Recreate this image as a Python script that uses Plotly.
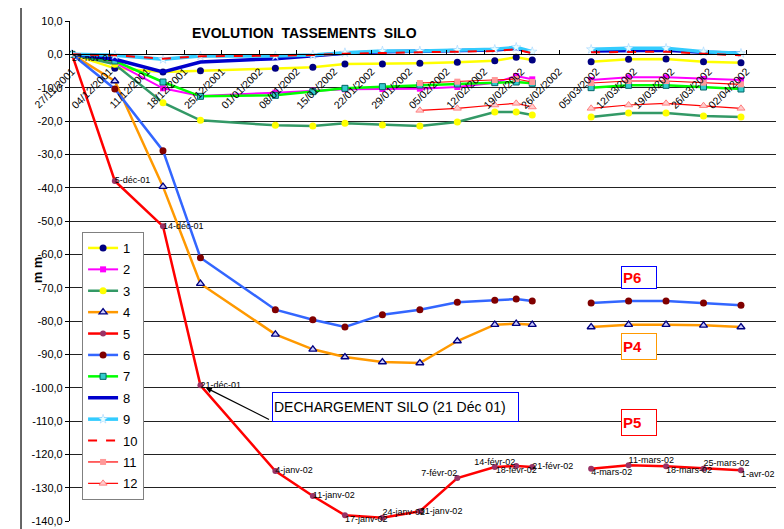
import plotly.graph_objects as go

# ---------------- data ----------------
dates = ["2001-11-27", "2001-12-05", "2001-12-14", "2001-12-21", "2002-01-04",
         "2002-01-11", "2002-01-17", "2002-01-24", "2002-01-31", "2002-02-07",
         "2002-02-14", "2002-02-18", "2002-02-21", "2002-02-28",
         "2002-03-04", "2002-03-11", "2002-03-18", "2002-03-25", "2002-04-01"]

s1 = [0, -4.2, -5.3, -4.9, -4.2, -3.9, -2.9, -2.9, -2.7, -2.4, -1.9, -0.9, -1.7, None, -2.2, -1.5, -1.4, -2.2, -2.5]
s2 = [0, -2.5, -10.2, -12.5, -11.5, -10.9, -10.5, -10.4, -10.3, -9.8, -8.5, -6.5, -7.5, None, -7.7, -6.9, -6.9, -7.4, -7.7]
s3 = [0, -3.0, -14.5, -19.8, -21.3, -21.5, -20.7, -21.2, -21.5, -20.3, -17.3, -17.3, -18.2, None, -18.8, -17.6, -17.6, -18.5, -18.8]
s4 = [0, -8.0, -39.7, -68.8, -84.0, -88.5, -90.8, -92.3, -92.6, -86.0, -81.1, -80.8, -81.1, None, -81.8, -81.1, -81.1, -81.3, -81.8]
s5 = [0, -38.0, -51.6, -99.3, -125.0, -132.5, -138.3, -139.0, -137.1, -127.1, -123.8, -123.5, -123.8, None, -124.3, -123.3, -123.6, -124.3, -124.8]
s6 = [0, -10.4, -28.9, -61.0, -76.6, -79.6, -81.8, -78.1, -76.6, -74.4, -73.8, -73.4, -74.0, None, -74.6, -74.0, -74.0, -74.6, -75.3]
s7 = [0, -2.0, -8.3, -12.6, -12.3, -11.2, -10.2, -9.7, -9.2, -8.9, -8.5, -8.3, -8.7, None, -10.0, -9.3, -9.3, -9.8, -10.4]
s8 = [0, -1.5, -5.3, -2.3, -1.3, -0.5, 0.3, 0.8, 0.9, 1.1, 1.3, 1.8, 0.6, None, 1.0, 1.2, 1.2, 0.6, 0.3]
s9 = [0, -0.3, -1.5, -0.5, -0.5, -0.2, 0.5, 1.0, 1.0, 1.3, 1.5, 2.1, 0.8, None, 1.5, 1.8, 1.8, 0.8, 0.3]
s10 = [0, -0.3, -1.3, -0.6, -0.4, -0.2, 0.2, 0.5, 0.6, 0.8, 1.0, 1.5, 0.3, None, 0.6, 0.8, 0.8, 0.2, -0.3]
s11 = [None, None, None, None, None, None, None, None, -8.6, -8.2, -7.7, -7.4, -8.3, None, -8.6, -8.0, -8.0, -8.5, -9.0]
s12 = [None, None, None, None, None, None, None, None, -16.8, -16.2, -15.2, -14.7, -15.8, None, -16.2, -15.2, -14.7, -15.4, -16.2]

series_names = ["1", "2", "3", "4", "5", "6", "7", "8", "9", "10", "11", "12"]

labels5 = ["27-nov-01", "5-déc-01", "14-déc-01", "21-déc-01", "4-janv-02", "11-janv-02",
           "17-janv-02", "24-janv-02", "31-janv-02", "7-févr-02", "14-févr-02", "18-févr-02",
           "21-févr-02", "", "4-mars-02", "11-mars-02", "18-mars-02", "25-mars-02", "1-avr-02"]

x_tick_dates = ["2001-11-27", "2001-12-04", "2001-12-11", "2001-12-18", "2001-12-25",
                "2002-01-01", "2002-01-08", "2002-01-15", "2002-01-22", "2002-01-29",
                "2002-02-05", "2002-02-12", "2002-02-19", "2002-02-26", "2002-03-05",
                "2002-03-12", "2002-03-19", "2002-03-26", "2002-04-02"]
x_tick_labels = ["27/11/2001", "04/12/2001", "11/12/2001", "18/12/2001", "25/12/2001",
                 "01/01/2002", "08/01/2002", "15/01/2002", "22/01/2002", "29/01/2002",
                 "05/02/2002", "12/02/2002", "19/02/2002", "26/02/2002", "05/03/2002",
                 "12/03/2002", "19/03/2002", "26/03/2002", "02/04/2002"]

y_tick_values = [10, 0, -10, -20, -30, -40, -50, -60, -70, -80, -90, -100, -110, -120, -130, -140]
y_tick_labels = ["10,0", "0,0", "-10,0", "-20,0", "-30,0", "-40,0", "-50,0", "-60,0", "-70,0",
                 "-80,0", "-90,0", "-100,0", "-110,0", "-120,0", "-130,0", "-140,0"]

# ---------------- styles ----------------
label5_pos = ["bottom right", "middle right", "middle right", "middle right", "middle right",
              "middle right", "bottom right", "top right", "middle right", "top left",
              "top center", "bottom center", "middle right", "middle right", "bottom right",
              "top right", "bottom right", "top right", "bottom right"]

styles = [
    dict(line=dict(color="#FFFF00", width=2.5), marker=dict(symbol="circle", color="#000080", size=7), mode="lines+markers"),
    dict(line=dict(color="#FF00FF", width=2), marker=dict(symbol="square", color="#FF00FF", size=6), mode="lines+markers"),
    dict(line=dict(color="#339966", width=2.5), marker=dict(symbol="circle", color="#FFFF00", size=7), mode="lines+markers"),
    dict(line=dict(color="#FF9900", width=2.5), marker=dict(symbol="triangle-up", color="#CCCCFF", size=7, line=dict(color="#000080", width=1.3)), mode="lines+markers"),
    dict(line=dict(color="#FF0000", width=2.5), marker=dict(symbol="circle", color="#993366", size=6), mode="lines+markers"),
    dict(line=dict(color="#3366FF", width=2.5), marker=dict(symbol="circle", color="#800000", size=7), mode="lines+markers"),
    dict(line=dict(color="#00FF00", width=2.5), marker=dict(symbol="square", color="#33CCCC", size=6, line=dict(color="#006666", width=1)), mode="lines+markers"),
    dict(line=dict(color="#0000CC", width=3.5), mode="lines"),
    dict(line=dict(color="#33CCFF", width=3.5), marker=dict(symbol="star", color="#E8FFFF", size=7, line=dict(color="#99CCFF", width=0.5)), mode="lines+markers"),
    dict(line=dict(color="#FF0000", width=2, dash="dash"), mode="lines"),
    dict(line=dict(color="#FF0000", width=1.2), marker=dict(symbol="square", color="#FF9999", size=6), mode="lines+markers"),
    dict(line=dict(color="#FF0000", width=1.2), marker=dict(symbol="triangle-up", color="#FFCCCC", size=7, line=dict(color="#FF8080", width=1)), mode="lines+markers"),
]

all_series = [s1, s2, s3, s4, s5, s6, s7, s8, s9, s10, s11, s12]

fig = go.Figure()
for name, vals, st in zip(series_names, all_series, styles):
    fig.add_trace(go.Scatter(x=dates, y=vals, name=name, legendgroup=name,
                             connectgaps=False, hoverinfo="skip", **st))

# point labels of series 5
fig.add_trace(go.Scatter(x=dates, y=s5, mode="text", text=labels5, textposition=label5_pos,
                         textfont=dict(family="Arial, Liberation Sans", size=9, color="#000000"),
                         showlegend=False, hoverinfo="skip", cliponaxis=False))

font_fam = "Arial, Liberation Sans, sans-serif"

fig.update_layout(
    width=784, height=529,
    margin=dict(l=62, r=12, t=13, b=16),
    paper_bgcolor="white", plot_bgcolor="white",
    font=dict(family=font_fam, color="#000000"),
    showlegend=True,
    legend=dict(x=0.017, y=0.578, xanchor="left", yanchor="top",
                bgcolor="white", bordercolor="#808080", borderwidth=1,
                font=dict(size=13, family=font_fam), tracegroupgap=1.5,
                itemwidth=30, traceorder="grouped"),
    xaxis=dict(type="date", range=["2001-11-26 15:00", "2002-04-08 07:00"],
               tickvals=x_tick_dates, ticktext=x_tick_labels, tickangle=-45,
               tickfont=dict(size=10.5, family=font_fam, color="#000000"),
               anchor="free", position=140 / 150, showline=True, linecolor="#000000",
               linewidth=1, ticks="inside", ticklen=4, tickcolor="#000000",
               showgrid=False, zeroline=False, ticklabelstandoff=6, automargin=False),
    yaxis=dict(range=[-140, 10], tickvals=y_tick_values, ticktext=y_tick_labels,
               tickfont=dict(size=11, family=font_fam, color="#000000"),
               showgrid=True, gridcolor="#222222", gridwidth=1.2,
               showline=True, linecolor="#000000", linewidth=1.2, mirror=True,
               zeroline=False, ticks="outside", ticklen=4, tickcolor="#000000",
               automargin=False),
)

ann = []
ann.append(dict(text="<b>EVOLUTION  TASSEMENTS  SILO</b>", xref="paper", yref="paper",
                x=0.169, y=0.977, xanchor="left", yanchor="middle", showarrow=False,
                font=dict(size=14, family=font_fam)))
ann.append(dict(text="<b>m m</b>", xref="paper", yref="paper", x=-0.046, y=0.502,
                xanchor="center", yanchor="middle",
                textangle=-90, showarrow=False, font=dict(size=13, family=font_fam)))
ann.append(dict(text="DECHARGEMENT SILO (21 Déc 01)", xref="paper", yref="paper",
                x=0.2845, y=0.229, xanchor="left", yanchor="middle", align="left",
                width=243, height=26, bordercolor="#0000FF", borderwidth=1, borderpad=1,
                bgcolor="white", showarrow=False, font=dict(size=14, family=font_fam)))
ann.append(dict(text=" ", x="2001-12-22", y=-100, ax="2002-01-03 09:00", ay=-110,
                xref="x", yref="y", axref="x", ayref="y", showarrow=True,
                arrowhead=2, arrowsize=1, arrowwidth=1.2, arrowcolor="#000000"))
for t, yy, hh, bc in [("P6", 0.488, 19, "#0000FF"), ("P4", 0.35, 23, "#FF9900"), ("P5", 0.198, 23, "#FF0000")]:
    ann.append(dict(text="<b>" + t + "</b>", xref="paper", yref="paper", x=0.8014, y=yy,
                    xanchor="center", yanchor="middle",
                    width=32, height=hh, align="left", bordercolor=bc, borderwidth=1,
                    borderpad=1, bgcolor="white", showarrow=False,
                    font=dict(size=15, color="#FF0000", family=font_fam)))
fig.update_layout(annotations=ann)

# outer chart frame
fig.add_shape(type="line", xref="paper", yref="paper", x0=-0.069, x1=-0.069, y0=-0.03, y1=1.03,
              line=dict(color="#000000", width=1.2))
fig.add_shape(type="line", xref="paper", yref="paper", x0=-0.069, x1=1.0, y0=1.03, y1=1.03,
              line=dict(color="#000000", width=1.2))

fig.write_html("out.html")
